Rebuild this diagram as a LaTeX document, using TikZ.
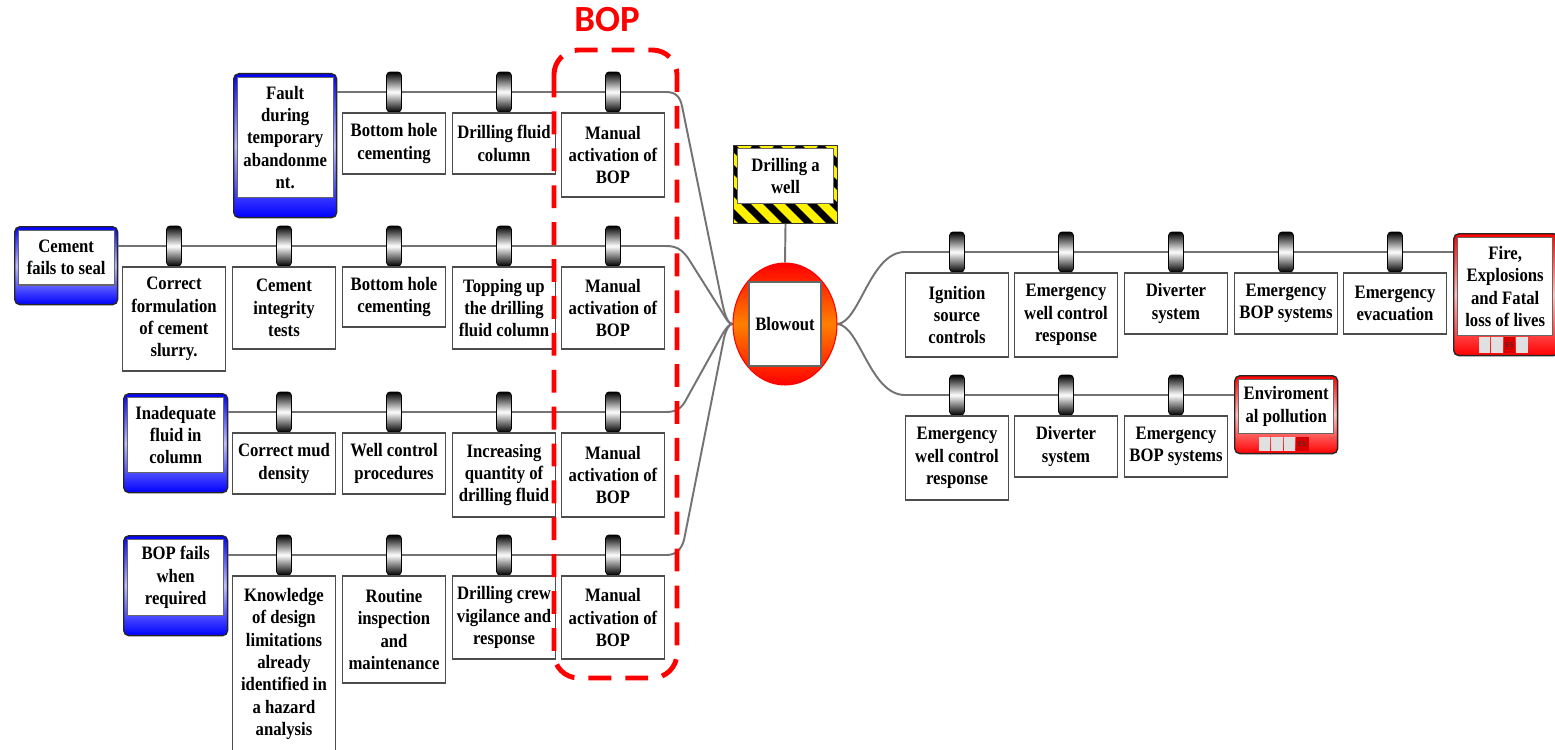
\documentclass[tikz,border=0pt]{standalone}
\usepackage{fontspec}
\setmainfont{Liberation Serif}[FakeStretch=0.88]
\newfontfamily\bopfont{Carlito}
\usetikzlibrary{shapes.geometric,backgrounds}
\newcommand\bxfont{\fontsize{10.8}{12.7}\selectfont\bfseries}
\begin{document}
\begin{tikzpicture}[x=0.02cm,y=-0.02cm,
  conn/.style={draw=black!55,line width=1.1pt},
  tab/.style={draw=black,line width=0.4pt,rounded corners=2pt,minimum width=0.3cm,minimum height=0.8cm,inner sep=0pt,top color=black,bottom color=black,middle color=white},
  bx/.style={draw=black!70,line width=0.8pt,fill=white,minimum width=2.06cm,inner sep=1pt,align=center,anchor=north,font=\bxfont},
  threat/.style={draw=black!85,line width=0.8pt,rounded corners=3pt,anchor=north west,inner sep=0pt,top color=blue,bottom color=blue,middle color=blue!25!white},
  conseq/.style={draw=black!85,line width=0.8pt,rounded corners=3pt,anchor=north west,inner sep=0pt,top color=red,bottom color=red,middle color=red!25!white},
  inbox/.style={draw=black!60,line width=0.6pt,fill=white,inner sep=0pt,align=center,anchor=north,font=\bxfont},
  cellg/.style={fill=black!12},
  cellr/.style={fill=red!85!black}
]
\useasboundingbox (0,0) rectangle (1555,750);

% ---------- BOP label ----------
\node[text=red,font=\bopfont\bfseries\fontsize{21}{24}\selectfont] (boplabel) at (607,20) {BOP};

% ---------- threats ----------
\node[threat,minimum width=2.06cm,minimum height=2.88cm] (t1) at (233,73) {};
\node[inbox,minimum width=1.92cm,minimum height=2.4cm] (t1x) at ([yshift=-0.08cm]t1.north) {Fault\\during\\temporary\\abandonme\\nt.};
\node[threat,minimum width=2.06cm,minimum height=1.56cm] (t2) at (14,226) {};
\node[inbox,minimum width=1.92cm,minimum height=1.1cm] (t2x) at ([yshift=-0.07cm]t2.north) {Cement\\fails to seal};
\node[threat,minimum width=2.08cm,minimum height=1.98cm] (t3) at (123,393) {};
\node[inbox,minimum width=1.92cm,minimum height=1.5cm] (t3x) at ([yshift=-0.08cm]t3.north) {Inadequate\\fluid in\\column};
\node[threat,minimum width=2.08cm,minimum height=2.0cm] (t4) at (123,535) {};
\node[inbox,minimum width=1.92cm,minimum height=1.52cm] (t4x) at ([yshift=-0.08cm]t4.north) {BOP fails\\when\\required};

% ---------- row 1 ----------
\node[tab] (ft1) at (394,92) {};
\node[tab] (ft2) at (504,92) {};
\node[tab] (ft3) at (613,92) {};
\node[bx,minimum height=1.22cm] (f1) at (ft1.south) {Bottom hole\\cementing};
\node[bx,minimum height=1.22cm] (f2) at (ft2.south) {Drilling fluid\\column};
\node[bx,minimum height=1.68cm] (f3) at (ft3.south) {Manual\\activation of\\BOP};

% ---------- row 2 ----------
\node[tab] (ct1) at (174,246) {};
\node[tab] (ct2) at (284,246) {};
\node[tab] (ct3) at (394,246) {};
\node[tab] (ct4) at (504,246) {};
\node[tab] (ct5) at (613,246) {};
\node[bx,minimum height=2.08cm] (c1) at (ct1.south) {Correct\\formulation\\of cement\\slurry.};
\node[bx,minimum height=1.64cm] (c2) at (ct2.south) {Cement\\integrity\\tests};
\node[bx,minimum height=1.2cm] (c3) at (ct3.south) {Bottom hole\\cementing};
\node[bx,minimum height=1.64cm] (c4) at (ct4.south) {Topping up\\the drilling\\fluid column};
\node[bx,minimum height=1.64cm] (c5) at (ct5.south) {Manual\\activation of\\BOP};

% ---------- row 3 ----------
\node[tab] (it1) at (284,412) {};
\node[tab] (it2) at (394,412) {};
\node[tab] (it3) at (504,412) {};
\node[tab] (it4) at (613,412) {};
\node[bx,minimum height=1.22cm] (i1) at (it1.south) {Correct mud\\density};
\node[bx,minimum height=1.22cm] (i2) at (it2.south) {Well control\\procedures};
\node[bx,minimum height=1.68cm] (i3) at (it3.south) {Increasing\\quantity of\\drilling fluid};
\node[bx,minimum height=1.68cm] (i4) at (it4.south) {Manual\\activation of\\BOP};

% ---------- row 4 ----------
\node[tab] (bt1) at (284,555) {};
\node[tab] (bt2) at (394,555) {};
\node[tab] (bt3) at (504,555) {};
\node[tab] (bt4) at (613,555) {};
\node[bx,minimum height=3.52cm] (b1) at (bt1.south) {Knowledge\\of design\\limitations\\already\\identified in\\a hazard\\analysis};
\node[bx,minimum height=2.14cm] (b2) at (bt2.south) {Routine\\inspection\\and\\maintenance};
\node[bx,minimum height=1.66cm] (b3) at (bt3.south) {Drilling crew\\vigilance and\\response};
\node[bx,minimum height=1.66cm] (b4) at (bt4.south) {Manual\\activation of\\BOP};

% ---------- hazard ----------
\begin{scope}
  \clip (733,145) rectangle (837,223);
  \fill[yellow] (733,145) rectangle (837,223);
  \foreach \x in {643,665,...,853} \draw[line width=4pt] (\x,145) -- ++(90,90);
\end{scope}
\node[draw=black!80,line width=0.6pt,minimum width=2.08cm,minimum height=1.56cm,inner sep=0pt,anchor=north west] (hz) at (733,145) {};
\node[inbox,minimum width=1.92cm,minimum height=1.1cm] (hzx) at ([yshift=-0.06cm]hz.north) {Drilling a\\well};

% ---------- top event ----------
\node[ellipse,draw=red,line width=0.6pt,minimum width=2.08cm,minimum height=2.44cm,inner sep=0pt,top color=red,bottom color=red,middle color=orange] (bl) at (785,324) {};
\node[draw=black!60,line width=0.8pt,fill=white,minimum width=1.44cm,minimum height=1.68cm,inner sep=0pt,font=\bxfont] (blx) at (bl.center) {Blowout};

% ---------- right top row ----------
\node[tab] (rt1) at (957,252) {};
\node[tab] (rt2) at (1066,252) {};
\node[tab] (rt3) at (1176,252) {};
\node[tab] (rt4) at (1286,252) {};
\node[tab] (rt5) at (1395,252) {};
\node[bx,minimum height=1.68cm] (r1) at (rt1.south) {Ignition\\source\\controls};
\node[bx,minimum height=1.68cm] (r2) at (rt2.south) {Emergency\\well control\\response};
\node[bx,minimum height=1.22cm] (r3) at (rt3.south) {Diverter\\system};
\node[bx,minimum height=1.22cm] (r4) at (rt4.south) {Emergency\\BOP systems};
\node[bx,minimum height=1.22cm] (r5) at (rt5.south) {Emergency\\evacuation};

% ---------- right bottom row ----------
\node[tab] (st1) at (957,395) {};
\node[tab] (st2) at (1066,395) {};
\node[tab] (st3) at (1176,395) {};
\node[bx,minimum height=1.68cm] (s1) at (st1.south) {Emergency\\well control\\response};
\node[bx,minimum height=1.22cm] (s2) at (st2.south) {Diverter\\system};
\node[bx,minimum height=1.22cm] (s3) at (st3.south) {Emergency\\BOP systems};

% ---------- consequences ----------
\node[conseq,minimum width=2.1cm,minimum height=2.44cm] (fire) at (1453,233) {};
\node[inbox,minimum width=1.9cm,minimum height=1.96cm] (firex) at ([yshift=-0.08cm,xshift=-0.02cm]fire.north) {Fire,\\Explosions\\and Fatal\\loss of lives};
\fill[cellg] (1479,337) rectangle (1490,353);
\fill[cellg] (1491,337) rectangle (1503,353);
\fill[cellr] (1504,337) rectangle (1515,353);
\fill[cellg] (1516,337) rectangle (1528,353);
\node[font=\sffamily\fontsize{4}{4}\selectfont,text=black!80,inner sep=0pt] (fireE) at (1509.5,345) {E5};

\node[conseq,minimum width=2.06cm,minimum height=1.56cm] (env) at (1234,375) {};
\node[inbox,minimum width=1.9cm,minimum height=1.08cm] (envx) at ([yshift=-0.08cm]env.north) {Enviroment\\al pollution};
\fill[cellg] (1259,437) rectangle (1270,451);
\fill[cellg] (1271,437) rectangle (1283,451);
\fill[cellg] (1284,437) rectangle (1295,451);
\fill[cellr] (1296,437) rectangle (1309,451);
\node[font=\sffamily\fontsize{4}{4}\selectfont,text=black!80,inner sep=0pt] (envE) at (1302.5,444) {E5};

% ---------- BOP dashed group ----------
\draw[red,line width=2.8pt,dash pattern=on 13pt off 8pt,rounded corners=14pt] (554,50) rectangle (677,678);

% ---------- connectors ----------
\begin{scope}[on background layer]
  \fill[white] (0,0) rectangle (1555,750);
  \draw[conn] (t1.east|-ft1) -- (666,92) .. controls (676,92) and (680,97) .. (682,106) -- (722,302) .. controls (725,316) and (728,324) .. (bl.west);
  \draw[conn] (t2.east|-ct1) -- (666,246) .. controls (677,246) and (682,250) .. (688,258) -- (722,312) .. controls (726,319) and (729,324) .. (bl.west);
  \draw[conn] (t3.east|-it1) -- (666,412) .. controls (677,412) and (682,408) .. (687,398) -- (722,335) .. controls (726,328) and (729,324) .. (bl.west);
  \draw[conn] (t4.east|-bt1) -- (666,555) .. controls (676,555) and (681,550) .. (684,540) -- (724,338) .. controls (726,330) and (729,324) .. (bl.west);
  \draw[conn] (hz.south) -- (bl.north);
  \draw[conn] (bl.east) .. controls (860,322) and (870,252) .. (905,252) -- (fire.west|-rt1);
  \draw[conn] (bl.east) .. controls (860,326) and (870,395) .. (905,395) -- (env.west|-st1);
\end{scope}
\end{tikzpicture}
\end{document}
